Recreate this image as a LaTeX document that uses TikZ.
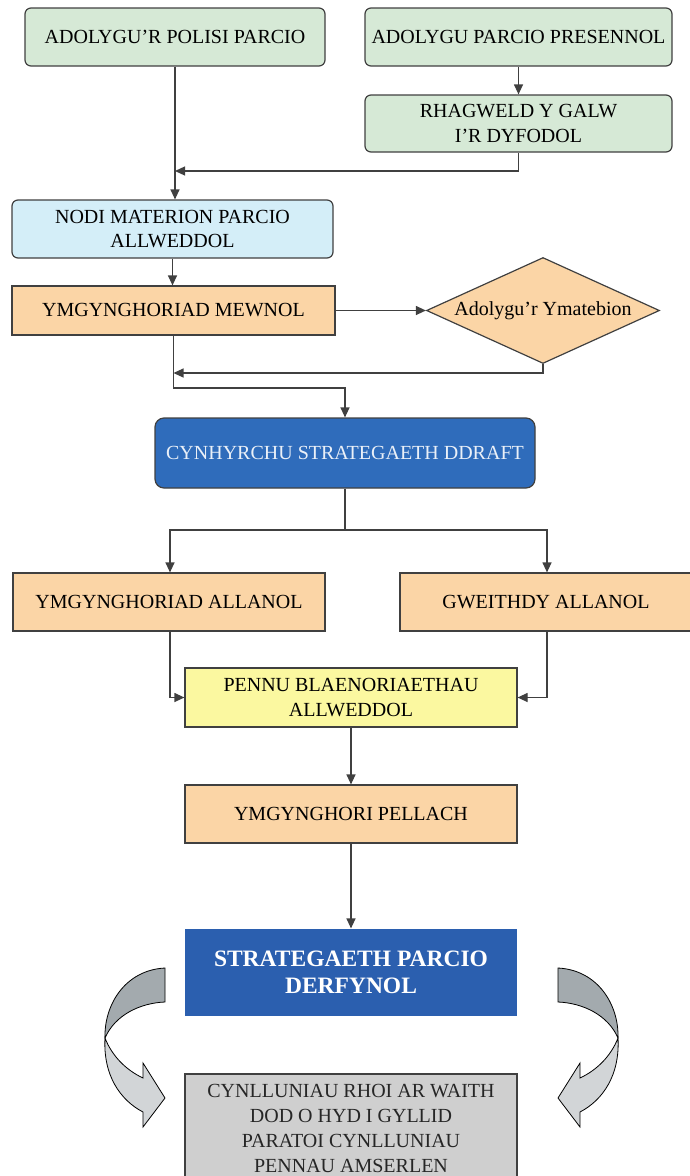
\documentclass[tikz,border=0pt]{standalone}
\usepackage{fontspec}
\setmainfont{Liberation Serif}
\usetikzlibrary{arrows.meta,shapes.geometric}
\definecolor{cgreen}{HTML}{D6E9D6}
\definecolor{cblue}{HTML}{D4EEF8}
\definecolor{corange}{HTML}{FBD5A6}
\definecolor{cyellow}{HTML}{FBF8A0}
\definecolor{cdblue}{HTML}{2F6CBB}
\definecolor{cdblue2}{HTML}{2B5FAF}
\definecolor{cgrey}{HTML}{CFCFCF}
\definecolor{cline}{HTML}{404040}
\definecolor{carrowdark}{HTML}{A3AAAE}
\definecolor{carrowlight}{HTML}{D2D5D7}
\tikzset{
  base/.style={draw=cline, line width=1.2pt, align=center, inner sep=2pt,
    font=\fontsize{20}{24.5}\selectfont},
  rbox/.style={base, rounded corners=6pt},
  sbox/.style={base},
  arr/.style={draw=cline, line width=1.2pt, -{Triangle[length=10pt,width=9pt]}},
  ln/.style={draw=cline, line width=1.2pt},
  bendarrow/.style={draw=black, line width=0.8pt}
}
\begin{document}
\begin{tikzpicture}[x=1pt,y=-1pt]
\useasboundingbox (0,0) rectangle (690,1176);
\node[rbox, fill=cgreen, minimum width=300pt, minimum height=58pt] (n1) at (175,37) {ADOLYGU'R POLISI PARCIO};
\node[rbox, fill=cgreen, minimum width=307pt, minimum height=58pt] (n2) at (518.5,37) {ADOLYGU PARCIO PRESENNOL};
\node[rbox, fill=cgreen, minimum width=307pt, minimum height=57pt] (n3) at (518.5,123.5) {RHAGWELD Y GALW\\I'R DYFODOL};
\node[rbox, fill=cblue, minimum width=321pt, minimum height=58pt] (n4) at (172.5,229) {NODI MATERION PARCIO\\ALLWEDDOL};
\node[sbox, fill=corange, minimum width=323pt, minimum height=49pt] (n5) at (173.5,310.5) {YMGYNGHORIAD MEWNOL};
\node[base, diamond, aspect=2.2, inner sep=0pt, fill=corange, minimum width=233pt, minimum height=106pt] (d) at (543,310.5) {Adolygu'r Ymatebion};
\node[rbox, rounded corners=9pt, fill=cdblue, text=white!90!cdblue, minimum width=380pt, minimum height=70pt] (n6) at (345,453) {CYNHYRCHU STRATEGAETH DDRAFT};
\node[sbox, fill=corange, minimum width=312pt, minimum height=58pt] (n7) at (169,602) {YMGYNGHORIAD ALLANOL};
\node[sbox, fill=corange, minimum width=292pt, minimum height=58pt] (n8) at (546,602) {GWEITHDY ALLANOL};
\node[sbox, fill=cyellow, minimum width=332pt, minimum height=59pt] (n9) at (351,697.5) {PENNU BLAENORIAETHAU\\ALLWEDDOL};
\node[sbox, fill=corange, minimum width=332pt, minimum height=58pt] (n10) at (351,814) {YMGYNGHORI PELLACH};
\node[sbox, draw=none, fill=cdblue2, text=white, font=\bfseries\fontsize{23.5}{27.5}\selectfont, minimum width=332pt, minimum height=87pt] (n11) at (351,972.5) {STRATEGAETH PARCIO\\DERFYNOL};
\node[sbox, fill=cgrey, text=black!85, font=\fontsize{20}{25}\selectfont, minimum width=332pt, minimum height=108pt] (n12) at (351,1128) {CYNLLUNIAU RHOI AR WAITH\\DOD O HYD I GYLLID\\PARATOI CYNLLUNIAU\\PENNAU AMSERLEN};

% connectors
\draw[arr] (n1.south) -- (n1.south |- n4.north);
\draw[arr] (n2.south) -- (n3.north);
\coordinate (j1) at (n1.south |- 0,171);
\draw[arr] (n3.south) |- (j1);
\draw[arr] (n4.south) -- (n4.south |- n5.north);
\draw[arr] (n5.east) -- (d.west);
\coordinate (j2) at (n5.south |- 0,373);
\draw[arr] (d.south) |- (j2);
\coordinate (j3) at (n5.south |- 0,388);
\draw[arr] (n5.south) -- (j3) -| (n6.north);
\coordinate (j4) at (n6.south |- 0,530);
\draw[ln] (n6.south) -- (j4);
\coordinate (j5) at (170,530);
\coordinate (j6) at (547,530);
\draw[arr] (j4) -- (j5) -- (j5 |- n7.north);
\draw[arr] (j4) -- (j6) -- (j6 |- n8.north);
\draw[arr] (j5 |- n7.south) |- (n9.west);
\draw[arr] (j6 |- n8.south) |- (n9.east);
\draw[arr] (n9.south) -- (n10.north);
\draw[arr] (n10.south) -- (n11.north);

% curved arrows
\filldraw[bendarrow, fill=carrowdark] (165,968) .. controls (125,970) and (104,1005) .. (105,1038) .. controls (115,1015) and (140,1003) .. (165,1002) -- cycle;
\filldraw[bendarrow, fill=carrowlight] (105,1038) .. controls (112,1056) and (126,1070) .. (143,1078) -- (143,1063) -- (165,1098) -- (143,1127) -- (143,1112) .. controls (120,1100) and (103,1075) .. (105,1038) -- cycle;
\begin{scope}[xshift=723pt, x=-1pt]
\filldraw[bendarrow, fill=carrowdark] (165,968) .. controls (125,970) and (104,1005) .. (105,1038) .. controls (115,1015) and (140,1003) .. (165,1002) -- cycle;
\filldraw[bendarrow, fill=carrowlight] (105,1038) .. controls (112,1056) and (126,1070) .. (143,1078) -- (143,1063) -- (165,1098) -- (143,1127) -- (143,1112) .. controls (120,1100) and (103,1075) .. (105,1038) -- cycle;
\end{scope}
\end{tikzpicture}
\end{document}
